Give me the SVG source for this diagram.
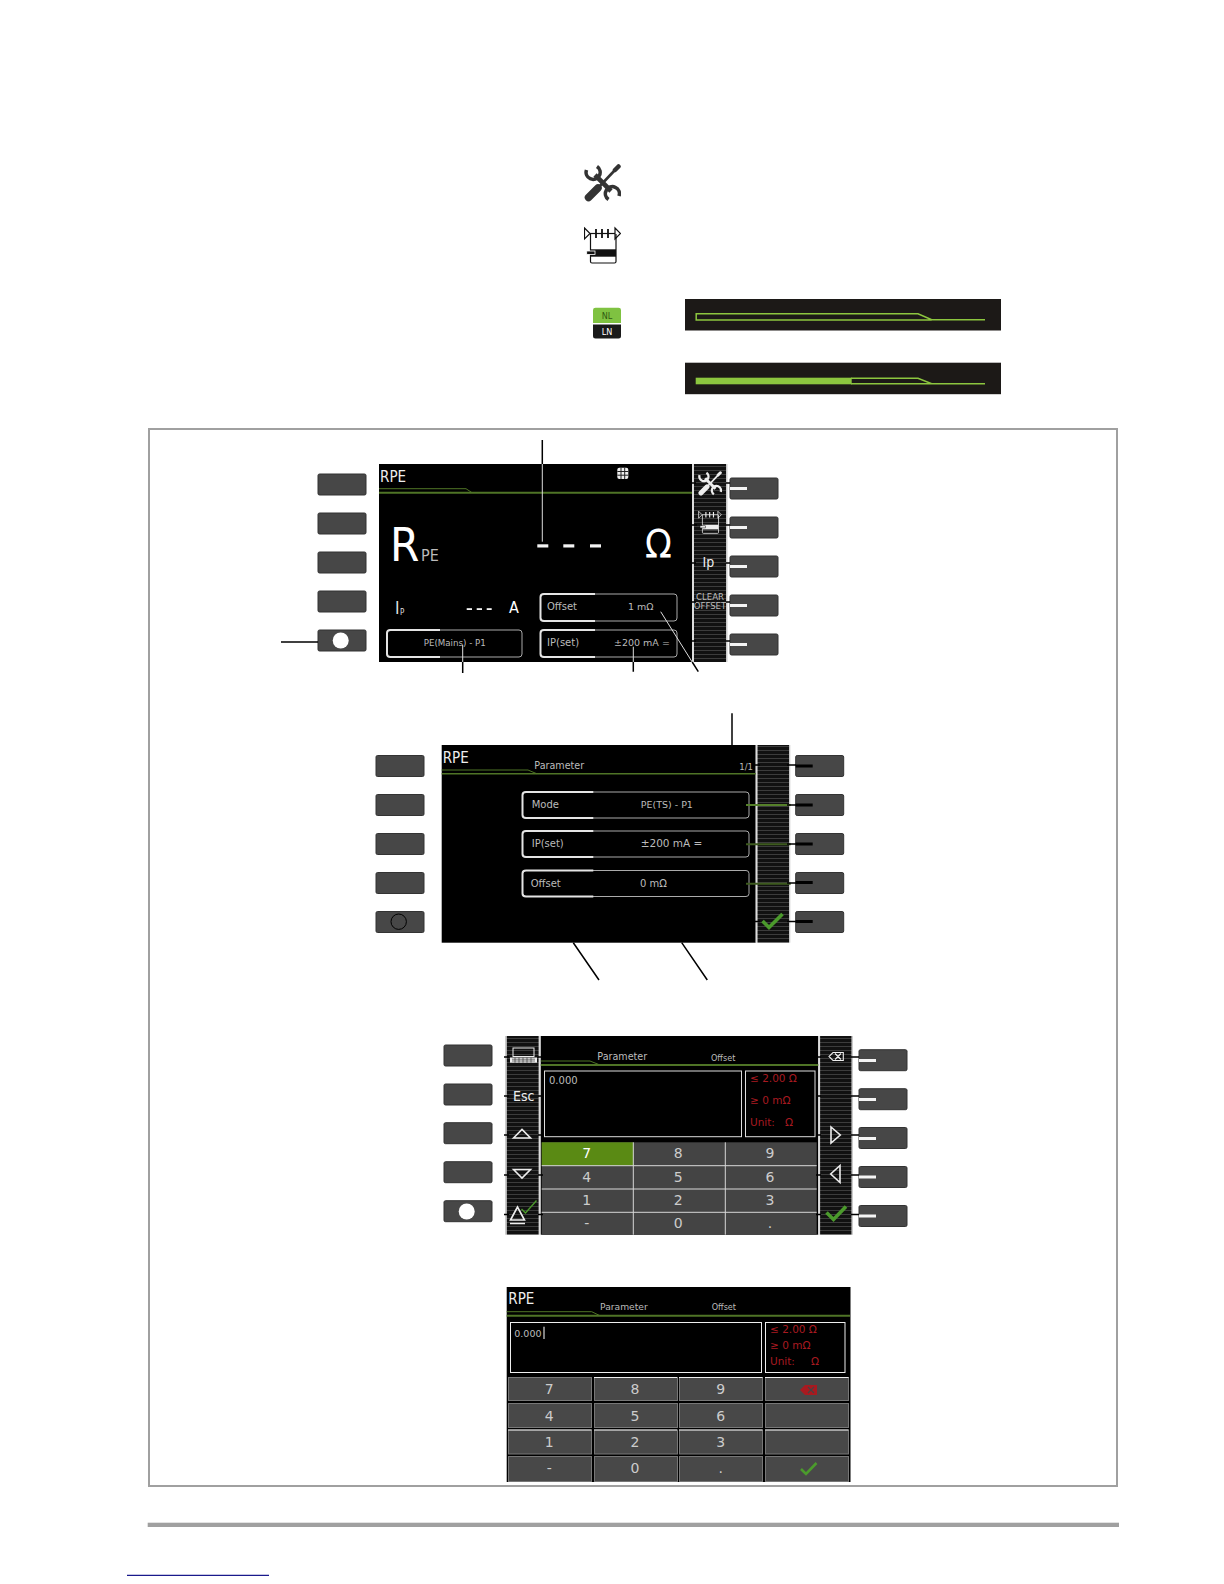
<svg xmlns="http://www.w3.org/2000/svg" xmlns:xlink="http://www.w3.org/1999/xlink" width="1224" height="1584" viewBox="0 0 1224 1584">
<style>
text{font-family:"DejaVu Sans",sans-serif;fill:#bbb;font-size:10px}
.c{font-family:"DejaVu Sans Condensed","DejaVu Sans",sans-serif;font-stretch:condensed}
.ti{fill:#eee;font-size:15px}
.d{font-size:14px;text-anchor:middle;fill:#ccc}
.r{fill:#a81a20;font-size:10.5px}
.sm{font-size:9px}
.key{fill:#474747;stroke:#333;stroke-width:1}
.thin{fill:none;stroke:#aaa;stroke-width:1}
.thick{fill:none;stroke:#e4e4e4;stroke-width:2}
.gl{fill:none;stroke:#4f7426;stroke-width:1}
.gt{fill:none;stroke:#4f7426;stroke-width:2}
.ld{fill:none;stroke:#000;stroke-width:1.5}
.lw{fill:none;stroke:#ddd;stroke-width:1}
.tk{fill:none;stroke:#000;stroke-width:1.6}
.wd{fill:#f4f4f4}
.bd{fill:#000}
.ck{fill:none;stroke:#4b9a2c;stroke-width:3.6}
.tri{fill:none;stroke:#eee;stroke-width:1.6}
.cell{fill:#444}
.grid{fill:none;stroke:#d8d8d8;stroke-width:1}
.cell4{fill:#484848;stroke:#777;stroke-width:1}
.bar{fill:#1c1917}
.gb{fill:none;stroke:#8cc63f;stroke-width:1.5}
</style>
<defs>
<pattern id="st" width="4" height="4" patternUnits="userSpaceOnUse"><rect width="4" height="4" fill="#111"/><rect y="2" width="4" height="1" fill="#3c3c3c"/></pattern>
<symbol id="tools" viewBox="0 0 37 38">
<g fill="none" stroke="currentColor">
<path d="M2.5,6A7,7 0 1 0 13,2.5" stroke-width="3.6"/>
<path d="M35,32A7,7 0 1 0 24.5,35.5" stroke-width="3.6"/>
<path d="M11,11L27,27" stroke-width="4.6"/>
<path d="M4.5,33.5L14,24" stroke-width="7.5" stroke-linecap="round"/>
<path d="M14,24L31,6" stroke-width="2.6"/>
<path d="M31,6L34.5,2.5" stroke-width="4.5" stroke-linecap="round"/>
</g>
</symbol>
<symbol id="seq" viewBox="0 0 37 38">
<g fill="none" stroke="currentColor" stroke-width="1.2">
<path d="M0.5,2L6,7.5L0.5,13Z"/><path d="M31,2L36.5,7.5L31,13Z"/>
<path d="M6,7.5H31"/><path d="M12,3V12M18,3V12M24,3V12" stroke-width="1.8"/>
<path d="M6.5,8V35.5Q6.5,37 8,37H30.5Q32,37 32,35.5V8"/>
</g>
<rect x="6.5" y="23.3" width="25.5" height="7.4" fill="currentColor"/>
<rect x="2.7" y="25" width="8.3" height="3.4" fill="currentColor" stroke="var(--bg)" stroke-width="0.8"/>
</symbol>
<rect id="k" class="key" width="48" height="21" rx="1.5"/>
</defs>
<rect width="1224" height="1584" fill="#fff"/>

<g id="legend-tools"><use href="#tools" x="584" y="164" width="37" height="38" style="color:#333"/></g>
<g id="legend-seq"><use href="#seq" x="584" y="226" width="37" height="38" style="color:#111;--bg:#fff"/></g>
<g id="legend-nl-ln">
<path d="M593,323V310Q593,307.7 595.5,307.7H618.5Q621,307.7 621,310V323Z" fill="#7fc241"/>
<path d="M593,324.5V336Q593,338.5 595.5,338.5H618.5Q621,338.5 621,336V324.5Z" fill="#1a1a1a"/>
<text x="607" y="319" class="c sm" text-anchor="middle" style="fill:#2f5a12">NL</text>
<text x="607" y="335" class="c sm" text-anchor="middle" style="fill:#fff">LN</text>
</g>
<g id="bar-outline"><rect class="bar" x="685" y="299" width="316" height="31.5"/>
<path class="gb" d="M985,319.8H931.7L918,313.8H696.2V320H931.7"/></g>
<g id="bar-filled"><rect class="bar" x="685" y="362.7" width="316" height="31.5"/>
<rect x="695.7" y="377.7" width="156" height="6.6" fill="#8cc63f"/>
<path class="gb" d="M851,378.3H918L931.7,383.8H985M851,383.8H931.7"/></g>

<g id="frame"><rect x="149" y="429" width="968" height="1057" fill="none" stroke="#a0a0a0" stroke-width="2"/></g>

<g id="keys-1">
<use href="#k" x="318" y="474"/><use href="#k" x="318" y="513"/><use href="#k" x="318" y="552"/><use href="#k" x="318" y="591"/><use href="#k" x="318" y="630"/>
<circle cx="340.7" cy="640.5" r="8" fill="#fff"/>
<use href="#k" x="730" y="478"/><use href="#k" x="730" y="517"/><use href="#k" x="730" y="556"/><use href="#k" x="730" y="595"/><use href="#k" x="730" y="634"/>
<rect class="wd" x="730" y="487" width="17" height="3"/><rect class="wd" x="730" y="526" width="17" height="3"/><rect class="wd" x="730" y="565" width="17" height="3"/><rect class="wd" x="730" y="604" width="17" height="3"/><rect class="wd" x="730" y="643" width="17" height="3"/>
</g>
<g id="screen-1">
<rect x="379" y="464" width="313" height="198" fill="#000"/>
<rect x="692" y="464" width="2" height="198" fill="#ddd"/>
<rect x="694" y="464" width="32" height="198" fill="url(#st)"/>
<rect x="726" y="464" width="1.5" height="198" fill="#ccc"/>
<text x="380" y="482" class="c ti">RPE</text>
<path class="gl" d="M379,488.7H466L472,492.7"/><path class="gt" d="M379,492.7H692"/>
<rect x="617.3" y="467.7" width="11" height="11.3" rx="2" fill="#eee"/>
<path d="M617.3,471.5H628.3M617.3,475.2H628.3M621,467.7V479M624.7,467.7V479" stroke="#222" stroke-width="1"/>
<text x="390" y="561" class="c" style="font-size:47px;fill:#fff">R</text>
<text x="421" y="561" class="c" style="font-size:16px;fill:#bbb">PE</text>
<rect class="wd" x="537.3" y="544.3" width="11" height="3.2"/><rect class="wd" x="563.3" y="544.3" width="11" height="3.2"/><rect class="wd" x="590" y="544.3" width="11" height="3.2"/>
<text x="658.5" y="558" class="c" text-anchor="middle" style="font-size:39px;fill:#fff">Ω</text>
<text x="395" y="614" class="c" style="font-size:17px;fill:#ddd">I</text>
<text x="400" y="615" class="c" style="font-size:8px;fill:#ddd">P</text>
<rect class="wd" x="466.7" y="608.2" width="5.3" height="1.8"/><rect class="wd" x="476.7" y="608.2" width="5.3" height="1.8"/><rect class="wd" x="486.7" y="608.2" width="5" height="1.8"/>
<text x="514" y="613" class="c" text-anchor="middle" style="font-size:16px;fill:#fff">A</text>
<rect class="thin" x="540.5" y="594" width="136.5" height="27" rx="3"/>
<path class="thick" d="M595,594H544Q540.5,594 540.5,597V618Q540.5,621 544,621H595"/>
<text x="547" y="610">Offset</text><text x="628" y="610" style="font-size:9.5px">1 mΩ</text>
<rect class="thin" x="540.5" y="630" width="136.5" height="27" rx="3"/>
<path class="thick" d="M595,630H544Q540.5,630 540.5,633V654Q540.5,657 544,657H595"/>
<text x="547" y="646">IP(set)</text><text x="614" y="646" style="font-size:9.5px">±200 mA =</text>
<rect class="thin" x="387" y="630" width="135" height="27" rx="3"/>
<path class="thick" d="M440,630H390.5Q387,630 387,633V654Q387,657 390.5,657H440"/>
<text x="454.8" y="646" text-anchor="middle" style="font-size:8.7px">PE(Mains) - P1</text>
<use href="#tools" x="698" y="471" width="24" height="25" style="color:#eee"/>
<use href="#seq" x="696.7" y="510" width="26.6" height="24" style="color:#eee;--bg:#111"/>
<text x="702.5" y="566.7" class="c" style="font-size:14px;fill:#eee">Ip</text>
<text x="710" y="600" class="c" text-anchor="middle" style="font-size:9.5px">CLEAR</text>
<text x="710" y="608.7" class="c" text-anchor="middle" style="font-size:9.5px">OFFSET</text>
</g>

<g id="keys-2">
<use href="#k" x="376" y="755.5"/><use href="#k" x="376" y="794.5"/><use href="#k" x="376" y="833.5"/><use href="#k" x="376" y="872.5"/><use href="#k" x="376" y="911.5"/>
<circle cx="398.7" cy="921.7" r="7.7" fill="none" stroke="#000"/>
<use href="#k" x="795.7" y="755.5"/><use href="#k" x="795.7" y="794.5"/><use href="#k" x="795.7" y="833.5"/><use href="#k" x="795.7" y="872.5"/><use href="#k" x="795.7" y="911.5"/>
<rect class="bd" x="795.7" y="764.5" width="17" height="3"/><rect class="bd" x="795.7" y="803.5" width="17" height="3"/><rect class="bd" x="795.7" y="842.5" width="17" height="3"/><rect class="bd" x="795.7" y="881" width="17" height="3"/><rect class="bd" x="795.7" y="920" width="17" height="3"/>
</g>
<g id="screen-2">
<rect x="441.7" y="745" width="314" height="197.7" fill="#000"/>
<rect x="755.7" y="745" width="1.8" height="197.7" fill="#ddd"/>
<rect x="757.5" y="745" width="31.5" height="197.7" fill="url(#st)"/>
<rect x="789" y="745" width="1.3" height="197.7" fill="#ccc"/>
<text x="442.7" y="762.7" class="c ti">RPE</text>
<text x="534.3" y="769" style="font-size:9.6px">Parameter</text>
<text x="739.3" y="769.7" class="c" style="font-size:9.5px">1/1</text>
<path class="gl" d="M441.7,770H528L536.7,773.7"/><path class="gt" d="M441.7,773.7H755.7" style="stroke-width:1.4"/>
<rect class="thin" x="522.5" y="792" width="226.5" height="26" rx="3"/>
<path class="thick" d="M593.3,792H526Q522.5,792 522.5,795V815Q522.5,818 526,818H593.3"/>
<text x="531.7" y="808">Mode</text><text x="640.7" y="808" style="font-size:9.5px">PE(TS) - P1</text>
<rect class="thin" x="522.5" y="831" width="226.5" height="26" rx="3"/>
<path class="thick" d="M593.3,831H526Q522.5,831 522.5,834V854Q522.5,857 526,857H593.3"/>
<text x="531.7" y="847">IP(set)</text><text x="640.7" y="847" style="font-size:10.5px">±200 mA =</text>
<rect class="thin" x="522.5" y="870.5" width="226.5" height="26" rx="3"/>
<path class="thick" d="M593.3,870.5H526Q522.5,870.5 522.5,873.5V893.5Q522.5,896.5 526,896.5H593.3"/>
<text x="530.7" y="886.7">Offset</text><text x="640" y="886.7">0 mΩ</text>
<polyline class="ck" points="762.5,921 769,927.5 782.5,914"/>
</g>

<g id="keys-3">
<use href="#k" x="444" y="1045"/><use href="#k" x="444" y="1084"/><use href="#k" x="444" y="1122.7"/><use href="#k" x="444" y="1161.7"/><use href="#k" x="444" y="1200.7"/>
<circle cx="466.7" cy="1211.5" r="8" fill="#fff"/>
<use href="#k" x="859" y="1049.7"/><use href="#k" x="859" y="1088.7"/><use href="#k" x="859" y="1127.5"/><use href="#k" x="859" y="1166.5"/><use href="#k" x="859" y="1205.5"/>
<rect class="wd" x="859" y="1059" width="17" height="3"/><rect class="wd" x="859" y="1098" width="17" height="3"/><rect class="wd" x="859" y="1137" width="17" height="3"/><rect class="wd" x="859" y="1175.5" width="17" height="3"/><rect class="wd" x="859" y="1214.5" width="17" height="3"/>
</g>
<g id="screen-3">
<rect x="505" y="1036" width="1.8" height="198.7" fill="#ccc"/>
<rect x="506.8" y="1036" width="32" height="198.7" fill="url(#st)"/>
<rect x="538.8" y="1036" width="2" height="198.7" fill="#ddd"/>
<rect x="540.8" y="1036" width="277.5" height="198.7" fill="#000"/>
<rect x="818.3" y="1036" width="1.8" height="198.7" fill="#ddd"/>
<rect x="820.1" y="1036" width="31.6" height="198.7" fill="url(#st)"/>
<rect x="851.7" y="1036" width="1.3" height="198.7" fill="#ccc"/>
<text x="597.3" y="1060" style="font-size:9.6px">Parameter</text>
<text x="711" y="1060.7" class="c" style="font-size:9px">Offset</text>
<path class="gl" d="M540.8,1061H590L600,1065"/><path class="gt" d="M540.8,1065H818.3"/>
<rect class="thin" x="544.5" y="1071" width="197" height="65.7" style="stroke:#ddd"/>
<rect class="thin" x="745.5" y="1071" width="69.5" height="65.7" style="stroke:#ddd"/>
<text x="549" y="1084.3">0.000</text>
<text x="750" y="1081.7" class="r">≤ 2.00 Ω</text>
<text x="750" y="1104" class="r">≥ 0 mΩ</text>
<text x="750" y="1125.7" class="r" xml:space="preserve">Unit:   Ω</text>
<rect class="cell" x="541.7" y="1142.3" width="275" height="92.4"/>
<rect x="541.7" y="1142.3" width="91.6" height="23.4" fill="#5a8a14"/>
<path class="grid" d="M541.7,1165.7H816.7M541.7,1189H816.7M541.7,1212.3H816.7M633.3,1142.3V1234.7M725.3,1142.3V1234.7"/>
<text class="d" x="586.7" y="1158.3" style="fill:#fff">7</text><text class="d" x="678.3" y="1158.3">8</text><text class="d" x="770" y="1158.3">9</text>
<text class="d" x="586.7" y="1181.7">4</text><text class="d" x="678.3" y="1181.7">5</text><text class="d" x="770" y="1181.7">6</text>
<text class="d" x="586.7" y="1205">1</text><text class="d" x="678.3" y="1205">2</text><text class="d" x="770" y="1205">3</text>
<text class="d" x="586.7" y="1228.3">-</text><text class="d" x="678.3" y="1228.3">0</text><text class="d" x="770" y="1228.3">.</text>
<rect x="513" y="1048" width="21" height="8.5" fill="none" stroke="#eee" stroke-width="1"/>
<rect x="510" y="1057.5" width="27" height="5.2" fill="#eee"/>
<path d="M512,1059.2H535M512,1061H535M515,1057.5V1062.7M519,1057.5V1062.7M523,1057.5V1062.7M527,1057.5V1062.7M531,1057.5V1062.7" stroke="#222" stroke-width="0.6"/>
<text x="513" y="1101" class="c" style="font-size:14px;fill:#eee">Esc</text>
<path class="tri" d="M513.5,1138L522,1129.5L530.5,1138Z"/>
<path class="tri" d="M513.5,1169.5L522,1178L530.5,1169.5Z"/>
<path d="M510.5,1220L517.5,1207L524.5,1220ZM510,1223.5H525" fill="none" stroke="#eee" stroke-width="1.6"/>
<polyline points="521.5,1209 525.5,1213 536.5,1200.5" fill="none" stroke="#4b9a2c" stroke-width="1.4"/>
<path d="M833,1052.5H843.3V1060.5H833L829,1056.5ZM835,1053.5L841,1059.5M841,1053.5L835,1059.5" fill="none" stroke="#eee" stroke-width="1.1"/>
<path class="tri" d="M831,1127L840.3,1135L831,1143Z"/>
<path class="tri" d="M840,1165.5L830.7,1174L840,1182.5Z"/>
<polyline class="ck" points="826.5,1212.5 833.5,1219.5 846,1206.5"/>
</g>

<g id="screen-4">
<rect x="506.7" y="1287" width="343.8" height="195" fill="#000"/>
<text x="508.3" y="1304.3" class="c ti">RPE</text>
<text x="600" y="1310" style="font-size:9.2px">Parameter</text>
<text x="711.7" y="1310" class="c" style="font-size:9px">Offset</text>
<path class="gl" d="M506.7,1311.7H591.7L600,1315.7"/><path class="gt" d="M506.7,1315.7H850"/>
<rect class="thin" x="510.5" y="1322.5" width="251" height="50" style="stroke:#eee"/>
<rect class="thin" x="765.5" y="1322.5" width="79.5" height="50" style="stroke:#eee"/>
<text x="514.3" y="1336.7" style="font-size:9.5px">0.000</text>
<rect x="543.5" y="1326.7" width="1" height="12.3" fill="#fff"/>
<text x="770" y="1333.3" class="r">≤ 2.00 Ω</text>
<text x="770" y="1349.3" class="r">≥ 0 mΩ</text>
<text x="770" y="1365" class="r">Unit:</text><text x="811" y="1365" class="r">Ω</text>
<rect class="cell4" x="508.5" y="1377.5" width="83" height="23"/><rect class="cell4" x="594.5" y="1377.5" width="83" height="23"/><rect class="cell4" x="679.5" y="1377.5" width="83" height="23"/><rect class="cell4" x="765.5" y="1377.5" width="83" height="23"/>
<rect class="cell4" x="508.5" y="1403.5" width="83" height="24"/><rect class="cell4" x="594.5" y="1403.5" width="83" height="24"/><rect class="cell4" x="679.5" y="1403.5" width="83" height="24"/><rect class="cell4" x="765.5" y="1403.5" width="83" height="24"/>
<rect class="cell4" x="508.5" y="1430" width="83" height="24"/><rect class="cell4" x="594.5" y="1430" width="83" height="24"/><rect class="cell4" x="679.5" y="1430" width="83" height="24"/><rect class="cell4" x="765.5" y="1430" width="83" height="24"/>
<rect class="cell4" x="508.5" y="1456.5" width="83" height="25"/><rect class="cell4" x="594.5" y="1456.5" width="83" height="25"/><rect class="cell4" x="679.5" y="1456.5" width="83" height="25"/><rect class="cell4" x="765.5" y="1456.5" width="83" height="25"/>
<path d="M594,1377.5H677M679,1377.5H762.5M765,1377.5H848.5M508,1430H591.5M594,1430H677M679,1430H762.5M765,1430H848.5" stroke="#eee" stroke-width="1"/>
<text class="d" x="549.3" y="1394.3">7</text><text class="d" x="635" y="1394.3">8</text><text class="d" x="720.7" y="1394.3">9</text>
<text class="d" x="549.3" y="1421">4</text><text class="d" x="635" y="1421">5</text><text class="d" x="720.7" y="1421">6</text>
<text class="d" x="549.3" y="1446.7">1</text><text class="d" x="635" y="1446.7">2</text><text class="d" x="720.7" y="1446.7">3</text>
<text class="d" x="549.3" y="1473.3">-</text><text class="d" x="635" y="1473.3">0</text><text class="d" x="720.7" y="1473.3">.</text>
<path d="M805,1385H817V1395H805L800,1390Z" fill="#a81a20"/>
<path d="M808,1387L814,1393M814,1387L808,1393" stroke="#444" stroke-width="1.2"/>
<polyline class="ck" points="801,1469 806,1474 816.5,1463" style="stroke-width:2.6"/>
</g>

<g id="connectors">
<path class="ld" d="M542.3,440V464"/><path class="lw" d="M542.3,464V541.7"/>
<path class="ld" d="M281,642H318"/>
<path class="lw" d="M462.7,645V662M633.3,646.7V662M660.7,611.7L692.2,662"/>
<path class="ld" d="M462.7,662V673M633.3,662V671.7M692.2,662L698.3,671.7"/>
<path class="tk" d="M692,483H696M726,483H730M692,525H697M726,525H730M692,563H696M726,563H730M692,602H696M726,602H730M692,641H696M726,641H730"/>
<path class="ld" d="M732,713.3V745"/>
<path class="ld" d="M573.3,942.7L599,980M681.7,942.7L707.3,980"/>
<path d="M746,805H790.7" class="gt" style="stroke:#55802a"/><path d="M746,844.3H790.7" class="gt" style="stroke:#3d5a1e"/><path d="M746,883.7H790.7" class="gt" style="stroke:#3d5a1e"/>
<path class="tk" d="M755,765H760M787,765H796M755,921.5H760M787,921.5H796M787,805H796M787,844H796M787,883H796"/>
<path class="tk" d="M504,1057H509M538,1057H543M504,1096H509M538,1096H543M504,1135H509M538,1135H543M504,1175H509M538,1175H543M504,1214.5H509M538,1214.5H543"/>
<path class="tk" d="M816,1057H821M851,1057H859M816,1096H821M851,1096H859M816,1135H821M851,1135H859M816,1175H821M851,1175H859M816,1214.5H821M851,1214.5H859"/>
</g>

<g id="footer">
<rect x="147.7" y="1522.7" width="971.3" height="4.3" fill="#a0a0a0"/>
<path d="M127,1575.3H269" stroke="#1a1a8c" stroke-width="1.2"/>
</g>
</svg>
